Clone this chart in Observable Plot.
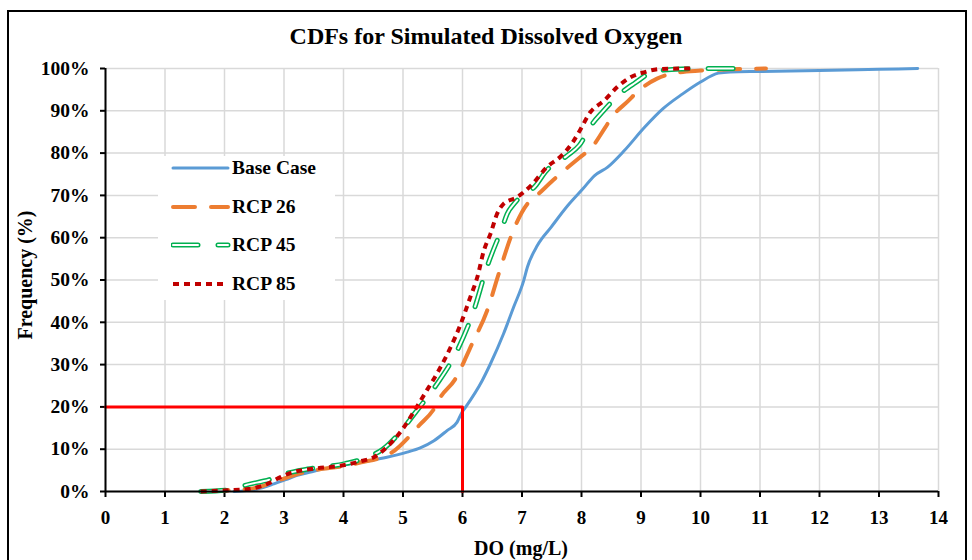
<!DOCTYPE html>
<html><head><meta charset="utf-8">
<script src="https://cdn.jsdelivr.net/npm/d3@7"></script>
<script src="https://cdn.jsdelivr.net/npm/@observablehq/plot@0.6"></script>
<style>
body{margin:0;background:#fff;}
#wrap{position:relative;width:972px;height:560px;overflow:hidden;font-family:"Liberation Serif","Times New Roman",serif;font-weight:bold;color:#000;}
#frame{position:absolute;left:7px;top:10px;width:960px;height:600px;border:2px solid #000;box-sizing:border-box;}
#title{position:absolute;top:23px;left:0;width:972px;text-align:center;font-size:24px;}
#chart{position:absolute;left:0;top:0;}
#ylab{position:absolute;left:25px;top:275px;transform:translate(-50%,-50%) rotate(-90deg);font-size:20px;white-space:nowrap;}
#xlab{position:absolute;left:521px;top:548px;transform:translate(-50%,-50%);font-size:20px;white-space:nowrap;}
#legend{position:absolute;left:158px;top:156px;width:177px;height:144px;background:#fff;}
.row{position:absolute;left:0;height:24px;display:flex;align-items:center;}
.row span{font-size:19.5px;margin-left:1px;}
</style>
</head><body>
<div id="wrap">
  <div id="frame"></div>
  <div id="chart"></div>
  <div id="title"></div>
  <div id="ylab"></div>
  <div id="xlab"></div>
  <div id="legend"></div>
</div>
<script>
// ---- data ----
const titleText = "CDFs for Simulated Dissolved Oxygen";
const xTitle = "DO (mg/L)";
const yTitle = "Frequency (%)";
const xTickValues = [0,1,2,3,4,5,6,7,8,9,10,11,12,13,14];
const yTickValues = [0,10,20,30,40,50,60,70,80,90,100];
const seriesNames = ["Base Case","RCP 26","RCP 45","RCP 85"];

const baseDO   = [2.16,2.55,2.83,3.03,3.22,3.5,3.78,4.06,4.4,4.73,5.07,5.29,5.52,5.74,5.91,5.99,6.05,6.33,6.47,6.69,6.86,7.03,7.09,7.26,7.49,7.77,8.02,8.22,8.44,8.72,9.06,9.37,9.7,10.0,10.3,10.5,11,12,13,13.65];
const baseFreq = [0,0.6,1.8,2.8,3.8,4.8,5.7,6.4,7.2,8.1,9.3,10.3,12,14.4,16.4,18.7,19.9,26.2,30.2,37.3,43.6,49.9,53,58.2,62.5,67.6,71.5,74.7,76.7,80.6,86.1,90.5,94,96.8,98.9,99.2,99.3,99.5,99.8,100];

const rcp26DO   = [1.7,2.1,2.5,2.9,3.2,3.5,4.0,4.3,4.65,4.82,5.13,5.27,5.52,5.63,5.87,6.16,6.41,6.61,6.81,6.89,7.09,7.25,7.53,8.01,8.15,8.4,8.51,8.79,8.93,9.27,9.6,10.0,10.5,11.1];
const rcp26Freq = [0,0.3,0.8,2.6,4.0,5.0,6.0,6.9,8.1,9.3,13.4,15.6,19.5,22.3,26.4,34.9,42.6,51.5,60.1,62.9,68.0,70.0,73.7,79.4,81.0,86.1,88.5,92.4,94.4,97.6,99.0,99.5,99.8,100];

const rcp45DO   = [1.6,2.1,2.33,2.8,3.03,3.4,4.03,4.4,4.66,4.95,5.21,5.55,5.91,6.19,6.41,6.67,6.75,6.89,7.24,7.39,7.76,7.96,8.18,8.35,8.68,8.88,9.27,10.1,10.65];
const rcp45Freq = [0,0.4,1.4,3.0,4.2,5.3,6.6,8.1,10.0,14.0,18.7,25.0,33.3,42.8,53.0,62.5,65.6,68.4,72.5,75.5,79.4,81.8,86.9,89.7,94.4,96.4,99.5,100,100];

const rcp85DO   = [1.6,2.05,2.4,2.72,2.94,3.16,3.5,3.95,4.3,4.51,4.73,4.98,5.21,5.4,5.6,5.8,5.97,6.13,6.25,6.36,6.47,6.58,6.69,6.92,7.17,7.42,7.65,7.85,7.97,8.15,8.38,8.6,8.82,9.05,9.33,9.9];
const rcp85Freq = [0,0.3,0.6,1.8,3.4,4.6,5.4,6.1,7.2,8.1,10.5,14.5,19.5,23.9,28.6,34.1,39.6,45.9,50.7,57,60.9,65.6,68,69.6,72.6,76.7,79.2,82.5,85.3,89.7,92.4,95.6,97.9,99.1,99.9,100];

const refDO   = [0,6,6];
const refFreq = [20,20,0];

// ---- build tables ----
const toRows = (xs, ys) => xs.map((x, i) => ({x, y: ys[i]}));
const base = toRows(baseDO, baseFreq);
const r26 = toRows(rcp26DO, rcp26Freq);
const r45 = toRows(rcp45DO, rcp45Freq);
const r85 = toRows(rcp85DO, rcp85Freq);
const ref = toRows(refDO, refFreq);

const styles = [
  {stroke:"#5B9BD5", strokeWidth:3, strokeLinecap:"round"},
  {stroke:"#ED7D31", strokeWidth:4, strokeDasharray:"22,16", strokeLinecap:"round"},
  {stroke:"#00B050", strokeWidth:5, strokeDasharray:"25,20", strokeLinecap:"round", inner:true},
  {stroke:"#C00000", strokeWidth:4, strokeDasharray:"6,5", strokeLinecap:"butt"}
];

const lineMarks = (data, s) => {
  const m = [Plot.line(data, {x:"x", y:"y", curve:"monotone-x", stroke:s.stroke, strokeWidth:s.strokeWidth, strokeDasharray:s.strokeDasharray, strokeLinecap:s.strokeLinecap})];
  if (s.inner) m.push(Plot.line(data, {x:"x", y:"y", curve:"monotone-x", stroke:"#fff", strokeWidth:2, strokeDasharray:s.strokeDasharray, strokeLinecap:s.strokeLinecap}));
  return m;
};

const chart = Plot.plot({
  width: 972, height: 560,
  marginLeft: 105, marginRight: 34, marginTop: 68, marginBottom: 69,
  style: {fontFamily:"'Liberation Serif','Times New Roman',serif", fontWeight:"bold", fontSize:"19px", background:"transparent", color:"#000"},
  x: {domain:[0,14]},
  y: {domain:[0,100]},
  marks: [
    Plot.gridX(xTickValues, {stroke:"#D9D9D9", strokeOpacity:1, strokeWidth:1.5}),
    Plot.gridY(yTickValues, {stroke:"#D9D9D9", strokeOpacity:1, strokeWidth:1.5}),
    Plot.axisX(xTickValues, {tickSize:6, tickPadding:13, stroke:"#000", strokeWidth:2, fill:"#000", fontSize:19, fontWeight:"bold", label:null}),
    Plot.axisY(yTickValues, {tickSize:5, tickPadding:11, stroke:"#000", strokeWidth:2, fill:"#000", fontSize:19.5, fontWeight:"bold", tickFormat:d => d + "%", label:null}),
    ...lineMarks(base, styles[0]),
    ...lineMarks(r26, styles[1]),
    ...lineMarks(r45, styles[2]),
    ...lineMarks(r85, styles[3]),
    Plot.line(ref, {x:"x", y:"y", stroke:"#FF0000", strokeWidth:3}),
    Plot.ruleX([0], {stroke:"#000", strokeWidth:2}),
    Plot.ruleY([0], {stroke:"#000", strokeWidth:2})
  ]
});
document.getElementById("chart").appendChild(chart);
document.getElementById("title").textContent = titleText;
document.getElementById("xlab").textContent = xTitle;
document.getElementById("ylab").textContent = yTitle;

// ---- legend ----
const legend = document.getElementById("legend");
const rowTops = [0, 38.5, 77, 115.5];
seriesNames.forEach((name, i) => {
  const s = styles[i];
  const row = document.createElement("div");
  row.className = "row";
  row.style.top = rowTops[i] + "px";
  row.style.left = "13px";
  const ns = "http://www.w3.org/2000/svg";
  const svg = document.createElementNS(ns, "svg");
  svg.setAttribute("width", "60"); svg.setAttribute("height", "24");
  const addLine = (stroke, w) => {
    const l = document.createElementNS(ns, "line");
    l.setAttribute("x1", "2"); l.setAttribute("x2", "57");
    l.setAttribute("y1", "12"); l.setAttribute("y2", "12");
    l.setAttribute("stroke", stroke); l.setAttribute("stroke-width", w);
    if (s.strokeDasharray) l.setAttribute("stroke-dasharray", s.strokeDasharray);
    l.setAttribute("stroke-linecap", s.strokeLinecap);
    svg.appendChild(l);
  };
  addLine(s.stroke, s.strokeWidth);
  if (s.inner) addLine("#fff", 2);
  row.appendChild(svg);
  const sp = document.createElement("span");
  sp.textContent = name;
  row.appendChild(sp);
  legend.appendChild(row);
});
</script>
</body></html>
